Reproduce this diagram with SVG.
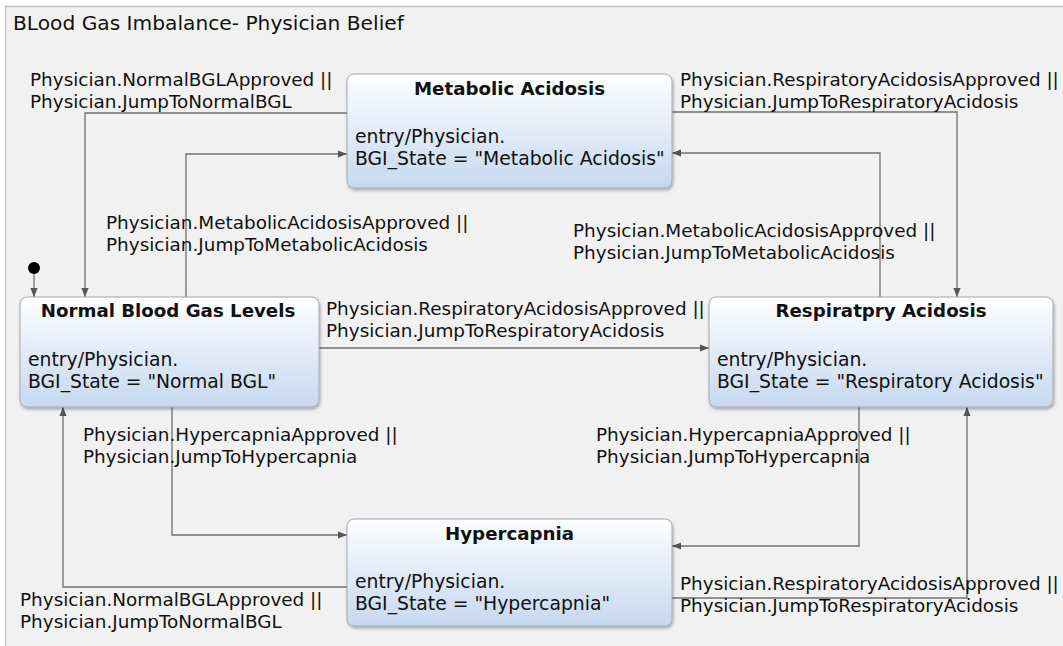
<svg xmlns="http://www.w3.org/2000/svg" width="1063" height="646" viewBox="0 0 1063 646">
  <defs>
    <linearGradient id="stateFill" x1="0" y1="0" x2="0" y2="1">
      <stop offset="0" stop-color="#fdfeff"/>
      <stop offset="1" stop-color="#c6d8f0"/>
    </linearGradient>
    <filter id="shadow" x="-5%" y="-5%" width="110%" height="115%">
      <feDropShadow dx="1" dy="2" stdDeviation="1.5" flood-color="#000" flood-opacity="0.3"/>
    </filter>
    <marker id="arrow" viewBox="0 0 10 10" refX="10" refY="5" markerWidth="9" markerHeight="9" markerUnits="userSpaceOnUse" orient="auto">
      <path d="M0,1 L10,5 L0,9 z" fill="#555"/>
    </marker>
    <style>
      .panel { fill: #f1f1f1; stroke: #c4c4c4; stroke-width: 1.5; }
      .state { fill: url(#stateFill); stroke: #a2a8b0; stroke-width: 1; filter: url(#shadow); }
      .title { font-family: "DejaVu Sans", Verdana, sans-serif; font-size: 20.2px; fill: #111; }
      .name { font-family: "DejaVu Sans", Verdana, sans-serif; font-size: 18.2px; font-weight: bold; fill: #111; text-anchor: middle; }
      .body { font-family: "DejaVu Sans", Verdana, sans-serif; font-size: 18.8px; fill: #111; }
      .label { font-family: "DejaVu Sans", Verdana, sans-serif; font-size: 18.4px; fill: #111; }
      .edge { fill: none; stroke: #707070; stroke-width: 1.3; marker-end: url(#arrow); }
    </style>
  </defs>

  <rect x="0" y="0" width="1063" height="646" fill="#ffffff"/>
  <rect class="panel" x="5.5" y="6.5" width="1070" height="650"/>
  <text class="title" x="13" y="30">BLood Gas Imbalance- Physician Belief</text>

  <g id="connectors">
    <!-- initial pseudo-state -->
    <circle cx="34" cy="268" r="6" fill="#000"/>
    <path class="edge" d="M34,274 V297"/>
    <!-- Metabolic Acidosis -> Normal -->
    <path class="edge" d="M347,113 H85 V297"/>
    <!-- Normal -> Metabolic Acidosis -->
    <path class="edge" d="M186,297 V154 H347"/>
    <!-- Metabolic Acidosis -> Respiratory Acidosis -->
    <path class="edge" d="M672,112 H957 V297"/>
    <!-- Respiratory Acidosis -> Metabolic Acidosis -->
    <path class="edge" d="M880,297 V153 H672"/>
    <!-- Normal -> Respiratory Acidosis -->
    <path class="edge" d="M319,348 H709"/>
    <!-- Normal -> Hypercapnia -->
    <path class="edge" d="M172,407 V535 H347"/>
    <!-- Hypercapnia -> Normal -->
    <path class="edge" d="M347,587 H63 V407"/>
    <!-- Respiratory Acidosis -> Hypercapnia -->
    <path class="edge" d="M859,407 V546 H672"/>
    <!-- Hypercapnia -> Respiratory Acidosis -->
    <path class="edge" d="M672,598 H967 V407"/>
  </g>

  <g id="edge-labels">
    <text class="label" x="30" y="86">Physician.NormalBGLApproved ||</text>
    <text class="label" x="30" y="108">Physician.JumpToNormalBGL</text>
    <text class="label" x="106" y="229">Physician.MetabolicAcidosisApproved ||</text>
    <text class="label" x="106" y="251">Physician.JumpToMetabolicAcidosis</text>
    <text class="label" x="680" y="86">Physician.RespiratoryAcidosisApproved ||</text>
    <text class="label" x="680" y="108">Physician.JumpToRespiratoryAcidosis</text>
    <text class="label" x="573" y="237">Physician.MetabolicAcidosisApproved ||</text>
    <text class="label" x="573" y="259">Physician.JumpToMetabolicAcidosis</text>
    <text class="label" x="326" y="315">Physician.RespiratoryAcidosisApproved ||</text>
    <text class="label" x="326" y="337">Physician.JumpToRespiratoryAcidosis</text>
    <text class="label" x="83" y="441">Physician.HypercapniaApproved ||</text>
    <text class="label" x="83" y="463">Physician.JumpToHypercapnia</text>
    <text class="label" x="596" y="441">Physician.HypercapniaApproved ||</text>
    <text class="label" x="596" y="463">Physician.JumpToHypercapnia</text>
    <text class="label" x="20" y="606">Physician.NormalBGLApproved ||</text>
    <text class="label" x="20" y="628">Physician.JumpToNormalBGL</text>
    <text class="label" x="680" y="590">Physician.RespiratoryAcidosisApproved ||</text>
    <text class="label" x="680" y="612">Physician.JumpToRespiratoryAcidosis</text>
  </g>

  <g id="metabolic-acidosis">
    <rect class="state" x="347" y="74" width="325" height="114" rx="7"/>
    <text class="name" x="509.5" y="95">Metabolic Acidosis</text>
    <text class="body" x="355" y="143">entry/Physician.</text>
    <text class="body" x="355" y="165">BGI_State = "Metabolic Acidosis"</text>
  </g>

  <g id="normal-blood-gas-levels">
    <rect class="state" x="20" y="297" width="299" height="110" rx="7"/>
    <text class="name" x="168" y="317">Normal Blood Gas Levels</text>
    <text class="body" x="28" y="366">entry/Physician.</text>
    <text class="body" x="28" y="388">BGI_State = "Normal BGL"</text>
  </g>

  <g id="respiratory-acidosis">
    <rect class="state" x="709" y="297" width="344" height="110" rx="7"/>
    <text class="name" x="881" y="317">Respiratpry Acidosis</text>
    <text class="body" x="717" y="366">entry/Physician.</text>
    <text class="body" x="717" y="388">BGI_State = "Respiratory Acidosis"</text>
  </g>

  <g id="hypercapnia">
    <rect class="state" x="347" y="519" width="325" height="107" rx="7"/>
    <text class="name" x="509.5" y="540">Hypercapnia</text>
    <text class="body" x="355" y="588">entry/Physician.</text>
    <text class="body" x="355" y="610">BGI_State = "Hypercapnia"</text>
  </g>
</svg>
